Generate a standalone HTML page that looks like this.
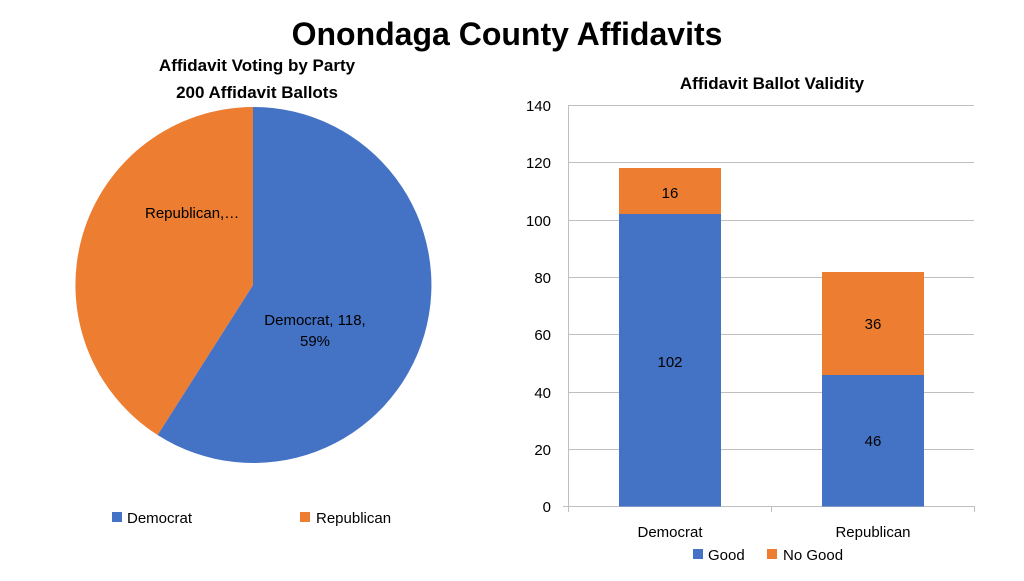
<!DOCTYPE html>
<html><head><meta charset="utf-8"><style>
body{margin:0;background:#fff;}
svg text{font-family:"Liberation Sans",sans-serif;}
</style></head><body>
<svg width="1024" height="576" viewBox="0 0 1024 576" xmlns="http://www.w3.org/2000/svg">
<rect width="1024" height="576" fill="#fff"/>
<text x="507" y="45" text-anchor="middle" font-size="32" font-weight="bold" fill="#000">Onondaga County Affidavits</text>
<text x="257" y="71" text-anchor="middle" font-size="17" font-weight="bold" fill="#000">Affidavit Voting by Party</text>
<text x="257" y="98" text-anchor="middle" font-size="17" font-weight="bold" fill="#000">200 Affidavit Ballots</text>
<path d="M253,285 L253,107 A178,178 0 1 1 157.6,435 Z" fill="#4472C4"/>
<path d="M253,285 L157.6,435 A178,178 0 0 1 253,107 Z" fill="#ED7D31"/>
<text x="315" y="325" text-anchor="middle" font-size="15" fill="#000">Democrat, 118,</text>
<text x="315" y="346" text-anchor="middle" font-size="15" fill="#000">59%</text>
<text x="145" y="218" font-size="15" fill="#000">Republican,…</text>
<rect x="112" y="512" width="10" height="10" fill="#4472C4"/>
<text x="127" y="523" font-size="15" fill="#000">Democrat</text>
<rect x="300" y="512" width="10" height="10" fill="#ED7D31"/>
<text x="316" y="523" font-size="15" fill="#000">Republican</text>
<text x="772" y="89" text-anchor="middle" font-size="17" font-weight="bold" fill="#000">Affidavit Ballot Validity</text>
<g stroke="#bfbfbf" stroke-width="1">
<line x1="568" y1="105.5" x2="974" y2="105.5"/>
<line x1="568" y1="162.5" x2="974" y2="162.5"/>
<line x1="568" y1="220.5" x2="974" y2="220.5"/>
<line x1="568" y1="277.5" x2="974" y2="277.5"/>
<line x1="568" y1="334.5" x2="974" y2="334.5"/>
<line x1="568" y1="392.5" x2="974" y2="392.5"/>
<line x1="568" y1="449.5" x2="974" y2="449.5"/>
<line x1="568.5" y1="105" x2="568.5" y2="512"/>
<line x1="563" y1="506.5" x2="974" y2="506.5"/>
<line x1="771.5" y1="506" x2="771.5" y2="512"/>
<line x1="974.5" y1="506" x2="974.5" y2="512"/>
</g>
<g font-size="15" fill="#000" text-anchor="end">
<text x="551" y="111">140</text><text x="551" y="168">120</text><text x="551" y="226">100</text>
<text x="551" y="283">80</text><text x="551" y="340">60</text><text x="551" y="398">40</text>
<text x="551" y="455">20</text><text x="551" y="512">0</text>
</g>
<rect x="619" y="214" width="102" height="292.5" fill="#4472C4"/>
<rect x="619" y="168" width="102" height="46" fill="#ED7D31"/>
<rect x="822" y="375" width="102" height="131.5" fill="#4472C4"/>
<rect x="822" y="272" width="102" height="103" fill="#ED7D31"/>
<g font-size="15" fill="#000" text-anchor="middle">
<text x="670" y="198">16</text><text x="670" y="367">102</text>
<text x="873" y="329">36</text><text x="873" y="446">46</text>
<text x="670" y="537">Democrat</text><text x="873" y="537">Republican</text>
</g>
<rect x="693" y="549" width="10" height="10" fill="#4472C4"/>
<text x="708" y="560" font-size="15" fill="#000">Good</text>
<rect x="767" y="549" width="10" height="10" fill="#ED7D31"/>
<text x="783" y="560" font-size="15" fill="#000">No Good</text>
</svg>
</body></html>
